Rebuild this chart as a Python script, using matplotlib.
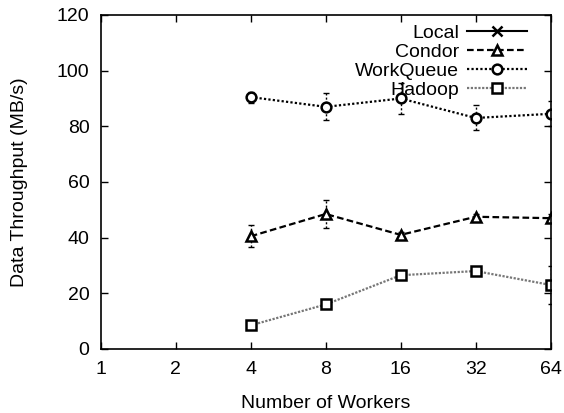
import matplotlib
matplotlib.use('Agg')
import matplotlib.pyplot as plt

plt.rcParams['font.family'] = ['Liberation Sans', 'DejaVu Sans']

workers = [4, 8, 16, 32, 64]
xticks = [1, 2, 4, 8, 16, 32, 64]

condor = [40.5, 48.5, 41.0, 47.5, 47.0]
condor_err = [3.9, 5.0, 1.0, 1.0, 1.5]
workqueue = [90.5, 87.0, 90.0, 83.0, 84.5]
workqueue_err = [2.0, 4.9, 5.5, 4.5, 4.5]
hadoop = [8.5, 16.0, 26.5, 28.0, 23.0]
hadoop_err = [1.0, 1.0, 1.0, 1.0, 6.8]

fig = plt.figure(figsize=(5.64, 4.13), dpi=100)
ax = fig.add_axes([0.1786, 0.155, 0.7978, 0.8087])

# Local has no measurements, only a legend key
ax.plot([], [], '-', color='black', lw=1.5, marker='x', ms=7, mew=1.8, label='Local')

series = [
    ('Condor', condor, condor_err, (0, (3, 1.5)), '^', 'black'),
    ('WorkQueue', workqueue, workqueue_err, (0, (1, 1)), 'o', 'black'),
    ('Hadoop', hadoop, hadoop_err, (0, (1, 0.7)), 's', '#777777'),
]
for name, vals, err, ls, mk, col in series:
    eb = ax.errorbar(workers, vals, yerr=err, fmt='none', ecolor='black',
                     elinewidth=1, capsize=2, capthick=1)
    for c in eb[2]:
        c.set_linestyle((0, (1.5, 1.5)))
    ax.plot(workers, vals, linestyle=ls, color=col, lw=1.6, marker=mk,
            ms=7, mfc='white', mec='black', mew=1.8, label=name)

ax.set_xscale('log', base=2)
ax.set_xlim(1, 64)
ax.set_ylim(0, 120)
ax.set_xticks(xticks)
ax.set_xticklabels([str(t) for t in xticks])
ax.minorticks_off()
ax.set_yticks(range(0, 121, 20))
ax.tick_params(direction='in', top=True, right=True, length=5, width=1,
               labelsize=14)
ax.tick_params(axis='x', pad=9)
ax.tick_params(axis='y', pad=8)
for s in ax.spines.values():
    s.set_linewidth(1.2)

ax.set_xlabel('Number of Workers', fontsize=14, labelpad=12)
ax.set_ylabel('Data Throughput (MB/s)', fontsize=14, labelpad=21)

ax.legend(loc='upper right', frameon=False, markerfirst=False, fontsize=14,
          handlelength=3.1, labelspacing=0.07, borderaxespad=0.0,
          handletextpad=0.4, bbox_to_anchor=(0.965, 0.995))

fig.savefig('out.png', dpi=100)
